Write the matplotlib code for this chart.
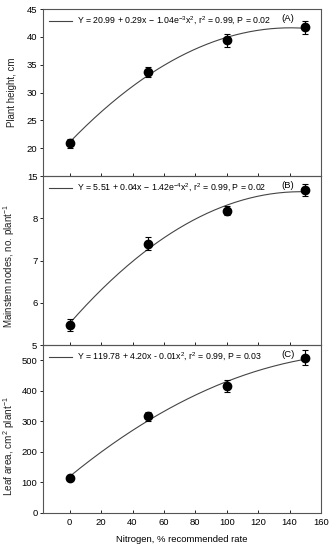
import numpy as np
import matplotlib
matplotlib.use("Agg")
import matplotlib.pyplot as plt
from matplotlib.lines import Line2D

plt.rcParams['font.family'] = ['Liberation Sans', 'DejaVu Sans']
plt.rcParams['mathtext.fontset'] = 'custom'
plt.rcParams['mathtext.rm'] = 'Liberation Sans'
plt.rcParams['mathtext.it'] = 'Liberation Sans'

nitrogen = [0, 50, 100, 150]
height = [20.9, 33.6, 39.4, 41.7]
height_err = [0.8, 0.9, 1.2, 1.1]
nodes = [5.47, 7.40, 8.18, 8.67]
nodes_err = [0.14, 0.16, 0.10, 0.15]
leaf = [115, 316, 417, 508]
leaf_err = [8, 15, 20, 25]

eqs = [r"Y = 20.99 + 0.29x $-$ 1.04e$^{-3}$x$^{2}$, r$^{2}$ = 0.99, P = 0.02",
       r"Y = 5.51 + 0.04x $-$ 1.42e$^{-4}$x$^{2}$, r$^{2}$ = 0.99, P = 0.02",
       r"Y = 119.78 + 4.20x - 0.01x$^{2}$, r$^{2}$ = 0.99, P = 0.03"]
tags = ["(A)", "(B)", "(C)"]
ylabels = ["Plant height, cm", r"Mainstem nodes, no. plant$^{-1}$",
           r"Leaf area, cm$^{2}$ plant$^{-1}$"]
ylims = [(15, 45), (5, 9), (0, 550)]
yticks = [[15, 20, 25, 30, 35, 40, 45], [5, 6, 7, 8], [0, 100, 200, 300, 400, 500]]
xticks = [0, 20, 40, 60, 80, 100, 120, 140, 160]

fig = plt.figure(figsize=(3.33, 5.5), dpi=100)
left, width = 0.129, 0.835
bottoms = [0.68, 0.3727, 0.0673]
tops = [0.9836, 0.68, 0.3727]
label_y = [0.5, 0.467, 0.40]
label_fs = [7.0, 7.0, 7.2]
series = [(height, height_err), (nodes, nodes_err), (leaf, leaf_err)]
fs = 6.3
for i in range(3):
    ax = fig.add_axes([left, bottoms[i], width, tops[i] - bottoms[i]])
    ax.set_facecolor('none')
    y, e = series[i]
    coef = np.polyfit(nitrogen, y, 2)
    xs = np.linspace(0, 150, 200)
    ax.plot(xs, np.polyval(coef, xs), color='#444444', lw=0.8)
    ax.errorbar(nitrogen, y, yerr=e, fmt='o', color='black', ms=6,
                ecolor='black', elinewidth=0.8, capsize=2, capthick=0.8)
    ax.set_xlim(-17, 160)
    ax.set_ylim(*ylims[i])
    ax.set_yticks(yticks[i])
    ax.set_xticks(xticks)
    ax.tick_params(axis='x', direction='in', length=2, width=0.6, labelsize=fs + 0.5)
    ax.tick_params(axis='y', direction='out', length=2, width=0.6, labelsize=fs + 0.5, pad=2)
    if i < 2:
        ax.tick_params(axis='x', labelbottom=False)
    else:
        ax.set_xlabel("Nitrogen, % recommended rate", fontsize=fs + 0.5, labelpad=6)
    for s in ax.spines.values():
        s.set_color('#555555')
        s.set_linewidth(0.8)
    ax.set_ylabel(ylabels[i], fontsize=label_fs[i], labelpad=4, color='#222222')
    h = Line2D([], [], color='#444444', lw=0.8)
    ax.legend([h], [eqs[i]], loc='upper left', frameon=False, fontsize=fs,
              handlelength=2.6, handletextpad=0.6, borderaxespad=0.3,
              bbox_to_anchor=(0.0, 1.0))
    ax.text(0.856, 0.945, tags[i], transform=ax.transAxes, fontsize=fs + 0.5,
            ha='left', va='center')
    ax.yaxis.set_label_coords(-0.093, label_y[i])

fig.savefig("out.png", dpi=100)
